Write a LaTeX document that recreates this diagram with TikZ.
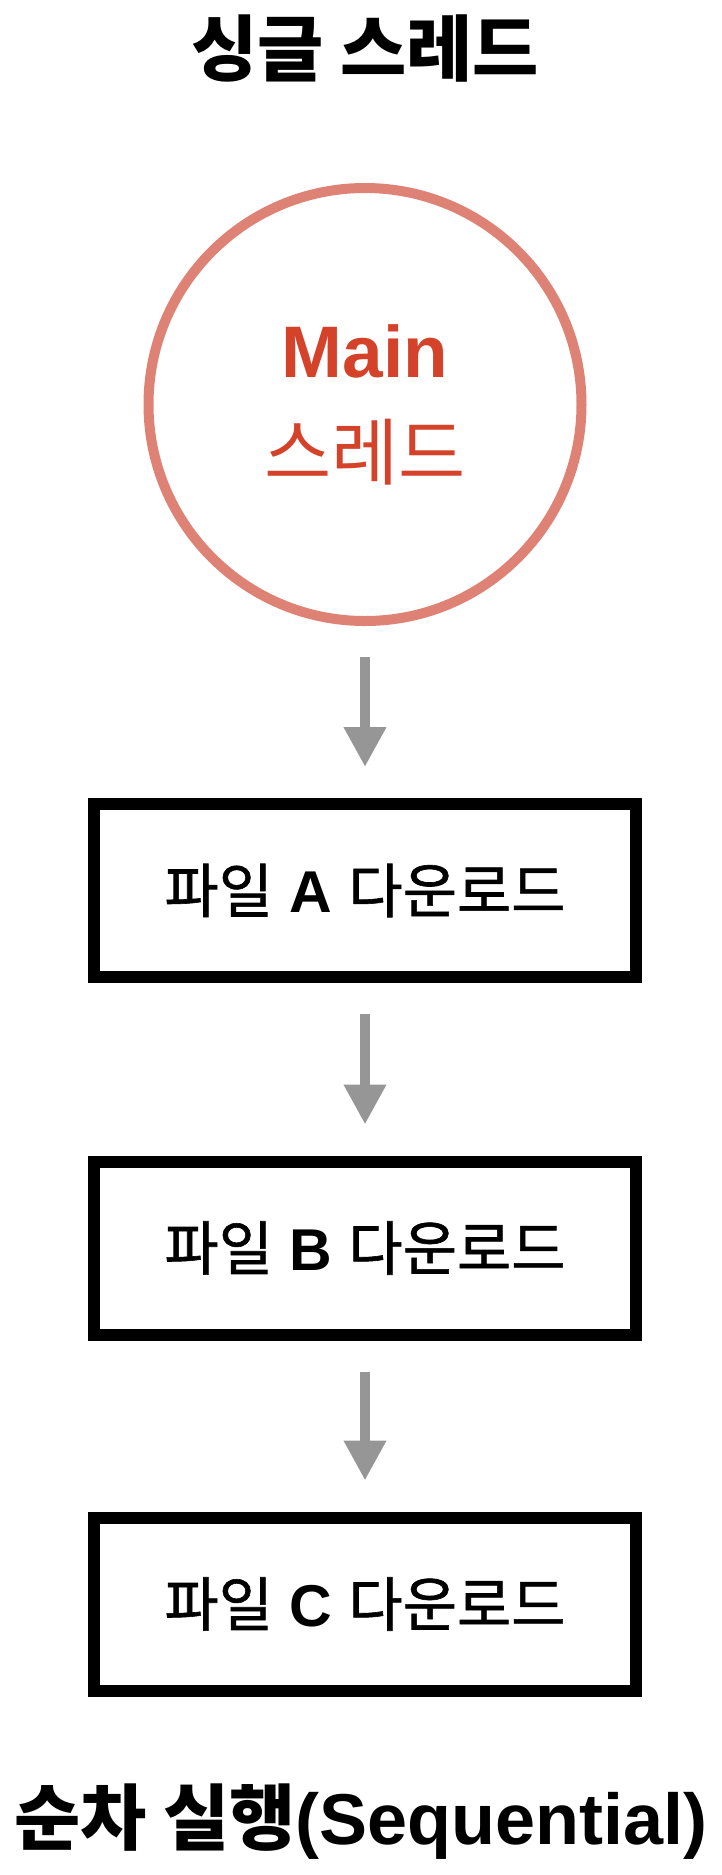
\documentclass[tikz,border=0pt]{standalone}
\usepackage{fontspec}
\setmainfont{Liberation Sans}
\newfontfamily\kr{Noto Sans CJK KR}
\newfontfamily\krmid[FakeBold=1]{Noto Sans CJK KR}
\usetikzlibrary{arrows.meta}

\definecolor{ringred}{RGB}{223,130,118}
\definecolor{mainred}{RGB}{212,66,42}
\definecolor{flowgray}{RGB}{150,150,150}

\begin{document}
\begin{tikzpicture}[
    x=1pt, y=-1pt,
    heading/.style={font=\bfseries\fontsize{72}{80}\selectfont, inner sep=0pt},
    thread/.style={circle, draw=ringred, line width=10pt, minimum size=433pt, inner sep=0pt, align=center, text=mainred, font=\fontsize{73}{102}\selectfont},
    task/.style={rectangle, draw, line width=12pt, minimum width=542pt, minimum height=173pt, inner sep=0pt, font=\fontsize{59}{64}\selectfont},
    flow/.style={-{Triangle[width=40pt, length=40pt]}, draw=flowgray, line width=10pt, shorten <=31pt, shorten >=31pt}
]
\useasboundingbox (0,0) rectangle (722,1875);

% Title
\node[heading] (title) at (365,48) {\kr 싱글 스레드};

% Main thread
\node[thread] (main) at (365,404.5) {\textbf{Main}\\{\kr 스레드}};

% Downloads, one after another
\node[task] (taskA) at (365,890.5) {{\krmid 파일} \textbf{A} {\krmid 다운로드}};
\node[task] (taskB) at (365,1248) {{\krmid 파일} \textbf{B} {\krmid 다운로드}};
\node[task] (taskC) at (365,1604) {{\krmid 파일} \textbf{C} {\krmid 다운로드}};

% Arrows
\draw[flow] (main) -- (taskA);
\draw[flow] (taskA) -- (taskB);
\draw[flow] (taskB) -- (taskC);

% Footer
\node[heading] (footer) at (361,1822) {{\kr 순차 실행}(Sequential)};

\end{tikzpicture}
\end{document}
